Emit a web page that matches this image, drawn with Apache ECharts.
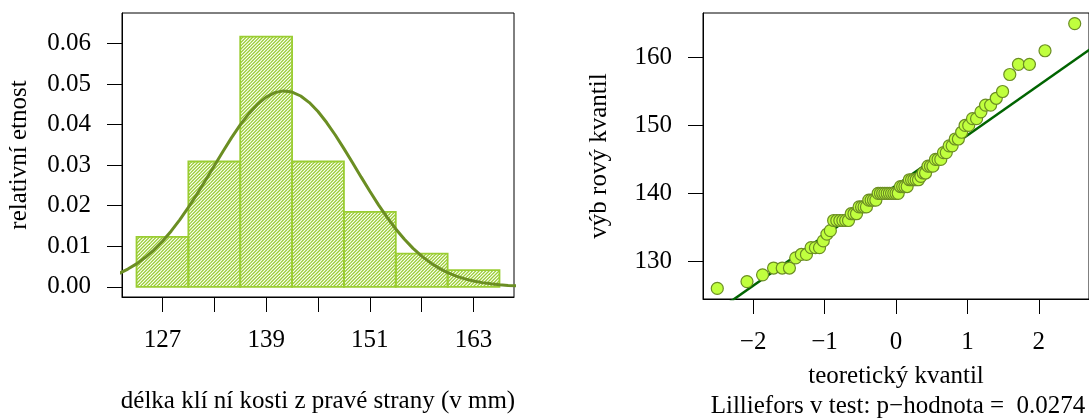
<!DOCTYPE html>
<html><head><meta charset="utf-8">
<script src="https://cdn.jsdelivr.net/npm/echarts@6/dist/echarts.min.js"></script>
<style>html,body{margin:0;padding:0;background:#fff;}#c{width:1089px;height:419px;}</style>
</head><body><div id="c"></div>
<script>
// ---- histogram data ----
const binStarts = [124, 130, 136, 142, 148, 154, 160];
const binEnds = [130, 136, 142, 148, 154, 160, 166];
const binDensity = [0.0123, 0.0309, 0.0617, 0.0309, 0.0185, 0.0082, 0.0041];
// ---- fitted density curve ----
const curveX = [122,123,124,125,126,127,128,129,130,131,132,133,134,135,136,137,138,139,140,141,142,143,144,145,146,147,148,149,150,151,152,153,154,155,156,157,158,159,160,161,162,163,164,165,166,167,168];
const curveY = [0.00333,0.00438,0.00567,0.00722,0.00908,0.01125,0.01373,0.01652,0.01958,0.02286,0.02632,0.02986,0.03337,0.03678,0.03992,0.04270,0.04502,0.04676,0.04787,0.04830,0.04802,0.04704,0.04542,0.04321,0.04050,0.03743,0.03407,0.03058,0.02704,0.02355,0.02021,0.01711,0.01426,0.01172,0.00949,0.00757,0.00596,0.00462,0.00352,0.00265,0.00197,0.00144,0.00104,0.00074,0.00051,0.00035,0.00024];
const histXTicks = [127, 133, 139, 145, 151, 157, 163];
const histXLabels = [127, 139, 151, 163];
const histYTicks = [0, 0.01, 0.02, 0.03, 0.04, 0.05, 0.06];
// ---- Q-Q plot data ----
const qqTheoretical = [-2.502,-2.086,-1.868,-1.714,-1.593,-1.492,-1.404,-1.325,-1.254,-1.189,
-1.128,-1.071,-1.018,-0.967,-0.919,-0.873,-0.829,-0.786,-0.744,-0.704,
-0.665,-0.627,-0.589,-0.553,-0.517,-0.482,-0.448,-0.414,-0.381,-0.348,
-0.315,-0.282,-0.250,-0.218,-0.187,-0.156,-0.124,-0.093,-0.062,-0.031,
0,
0.031,0.062,0.093,0.124,0.156,0.187,0.218,0.250,0.282,0.315,
0.348,0.381,0.414,0.448,0.482,0.517,0.553,0.589,0.627,0.665,
0.704,0.744,0.786,0.829,0.873,0.919,0.967,1.018,1.071,1.128,
1.189,1.254,1.325,1.404,1.492,1.593,1.714,1.868,2.086,2.502];
const qqSample = [126,127,128,129,129,129,130.5,131,131,132,
132,132,133,134,134.5,136,136,136,136,136,
136,137,137,137,138,138,138,138,139,139,
139,139,140,140,140,140,140,140,140,140,
140,140,141,141,141,141,142,142,142,142,
142,142.5,143,143,144,144,144,145,145,145,
146,146,147,147,148,148,149,150,150,151,
151,152,153,153,154,155,157.5,159,159,161,165];
const qqLineX = [-2.8, 2.8];
const qqLineY = [120.49, 161.83];
const qqXTicks = [-2, -1, 0, 1, 2];
const qqYTicks = [130, 140, 150, 160];

const FONT = 'Liberation Serif';
const FS = 25;

function makeHatch() {
  const s = 10, c = document.createElement('canvas');
  c.width = s; c.height = s;
  const g = c.getContext('2d');
  g.strokeStyle = '#9ACD32'; g.lineWidth = 1.3;
  const d = s / 3;
  for (let k = -1; k <= 7; k++) {
    const t = k * d;
    g.beginPath(); g.moveTo(t + 2, -2); g.lineTo(t - s - 2, s + 2); g.stroke();
  }
  return c;
}
const hatch = { image: makeHatch(), repeat: 'repeat' };

function axisBase(extra) {
  return Object.assign({
    type: 'value',
    axisLine: { show: true, onZero: false, lineStyle: { color: '#000', width: 1 } },
    splitLine: { show: false },
    nameLocation: 'middle',
    nameTextStyle: { fontFamily: FONT, fontSize: FS, color: '#000' }
  }, extra);
}
const tickStyle = { show: true, inside: false, length: 15, lineStyle: { color: '#000', width: 1 } };
const labStyle = { color: '#000', fontFamily: FONT, fontSize: FS, margin: 31 };
const minus = v => (v < 0 ? '\u2212' + Math.abs(v) : String(v));

const chart = echarts.init(document.getElementById('c'), null, { renderer: 'canvas' });
chart.setOption({
  animation: false,
  backgroundColor: '#fff',
  grid: [
    { left: 122, top: 13, width: 392, height: 286, show: true, borderColor: '#000', borderWidth: 1, backgroundColor: 'transparent' },
    { left: 703, top: 13, width: 391, height: 286, show: true, borderColor: '#000', borderWidth: 1, backgroundColor: 'transparent' }
  ],
  xAxis: [
    axisBase({ gridIndex: 0, min: 122.32, max: 167.68, name: 'délka klí ní kosti z pravé strany (v mm)', nameGap: 92,
      axisTick: Object.assign({ customValues: histXTicks }, tickStyle),
      axisLabel: Object.assign({ customValues: histXLabels }, labStyle) }),
    axisBase({ gridIndex: 1, min: -2.702, max: 2.702, name: 'teoretický kvantil', nameGap: 65,
      axisTick: Object.assign({ customValues: qqXTicks }, tickStyle),
      axisLabel: Object.assign({ customValues: qqXTicks, formatter: minus }, labStyle) })
  ],
  yAxis: [
    axisBase({ gridIndex: 0, min: -0.0025, max: 0.0675, name: 'relativní etnost', nameGap: 90,
      axisTick: Object.assign({ customValues: histYTicks }, tickStyle),
      axisLabel: Object.assign({ customValues: histYTicks, formatter: v => v.toFixed(2) }, labStyle) }),
    axisBase({ gridIndex: 1, min: 124.44, max: 166.56, name: 'výb rový kvantil', nameGap: 91,
      axisTick: Object.assign({ customValues: qqYTicks }, tickStyle),
      axisLabel: Object.assign({ customValues: qqYTicks }, labStyle) })
  ],
  graphic: [{
    type: 'text', x: 898, y: 394,
    style: { text: 'Lilliefors v test: p\u2212hodnota =  0.0274', align: 'center', verticalAlign: 'top',
      font: FS + 'px "' + FONT + '"', fill: '#000' }
  }],
  series: [
    {
      type: 'custom', xAxisIndex: 0, yAxisIndex: 0, clip: true, z: 2,
      data: binStarts.map((s, i) => [s, binEnds[i], binDensity[i]]),
      encode: { x: [0, 1], y: 2 },
      renderItem: function (params, api) {
        const p0 = api.coord([api.value(0), 0]);
        const p1 = api.coord([api.value(1), api.value(2)]);
        return { type: 'rect', shape: { x: p0[0], y: p1[1], width: p1[0] - p0[0], height: p0[1] - p1[1] },
          style: { fill: hatch, stroke: '#9ACD32', lineWidth: 1.8 } };
      }
    },
    {
      type: 'line', xAxisIndex: 0, yAxisIndex: 0, clip: true, z: 3, smooth: false, showSymbol: false,
      data: curveX.map((x, i) => [x, curveY[i]]),
      lineStyle: { color: '#6B8E23', width: 3 }
    },
    {
      type: 'line', xAxisIndex: 1, yAxisIndex: 1, clip: true, z: 2, showSymbol: false,
      data: qqLineX.map((x, i) => [x, qqLineY[i]]),
      lineStyle: { color: '#006400', width: 2.5 }
    },
    {
      type: 'scatter', xAxisIndex: 1, yAxisIndex: 1, clip: false, z: 3, symbolSize: 12,
      data: qqTheoretical.map((x, i) => [x, qqSample[i]]),
      itemStyle: { color: '#C0FF3E', borderColor: '#6B8E23', borderWidth: 1.2, opacity: 1 }
    }
  ]
});
</script></body></html>
